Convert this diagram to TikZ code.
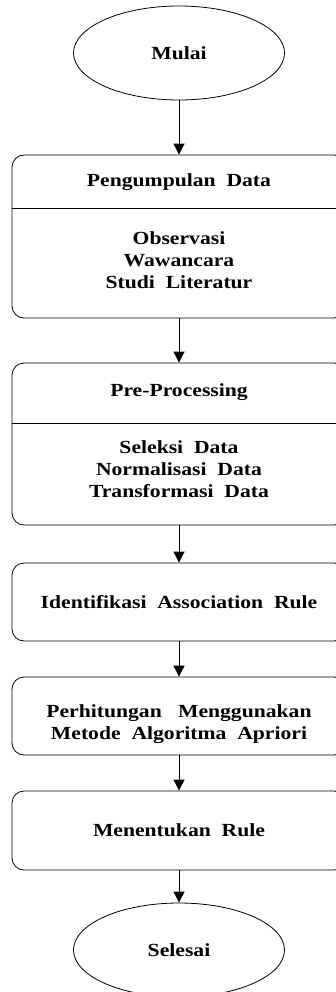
\documentclass[tikz,border=0pt]{standalone}
\usepackage{fontspec}
\setmainfont{Liberation Serif}[FakeStretch=1.17]
\usetikzlibrary{arrows.meta,shapes.geometric}
\tikzset{
  every node/.style={font=\fontsize{18.5}{22}\selectfont\bfseries},
  stepbox/.style={draw, line width=0.8pt, rounded corners=12pt, minimum width=334pt, inner sep=0pt},
  termbox/.style={draw, ellipse, line width=0.8pt, minimum width=211pt, minimum height=94pt, inner sep=0pt},
  txt/.style={align=center, inner sep=0pt},
  flow/.style={line width=0.9pt, -{Triangle[width=11pt,length=11pt]}},
  divline/.style={line width=0.8pt}
}
\begin{document}
\begin{tikzpicture}[x=1pt,y=1pt]
\useasboundingbox (0,0) rectangle (336,-992);
% terminals
\node[termbox] (start) at (179,-53) {Mulai};
\node[termbox] (end) at (179,-950) {Selesai};
% boxes
\node[stepbox, minimum height=163pt] (b1) at (179,-236.5) {};
\node[stepbox, minimum height=162pt] (b2) at (179,-444) {};
\node[stepbox, minimum height=78pt] (b3) at (179,-602) {Identifikasi\ \ Association\ \ Rule};
\node[stepbox, minimum height=78pt] (b4) at (179,-716) {};
\node[stepbox, minimum height=79pt] (b5) at (179,-830.5) {Menentukan\ \ Rule};
% dividers
\coordinate (d1) at (0,-208);
\coordinate (d2) at (0,-423);
\draw[divline] (b1.west |- d1) -- (b1.east |- d1);
\draw[divline] (b2.west |- d2) -- (b2.east |- d2);
% texts
\node[txt] (t1) at (179,-182) {Pengumpulan\ \ Data};
\node[txt] (t1b) at (179,-260) {Observasi\\Wawancara\\Studi\ \ Literatur};
\node[txt] (t2) at (179,-392) {Pre-Processing};
\node[txt] (t2b) at (179,-469) {Seleksi\ \ Data\\Normalisasi\ \ Data\\Transformasi\ \ Data};
\node[txt] (t4) at (179,-724) {Perhitungan\ \ \ Menggunakan\\Metode\ \ Algoritma\ \ Apriori};
% arrows
\draw[flow] (start) -- (b1);
\draw[flow] (b1) -- (b2);
\draw[flow] (b2) -- (b3);
\draw[flow] (b3) -- (b4);
\draw[flow] (b4) -- (b5);
\draw[flow] (b5) -- (end);
\end{tikzpicture}
\end{document}
